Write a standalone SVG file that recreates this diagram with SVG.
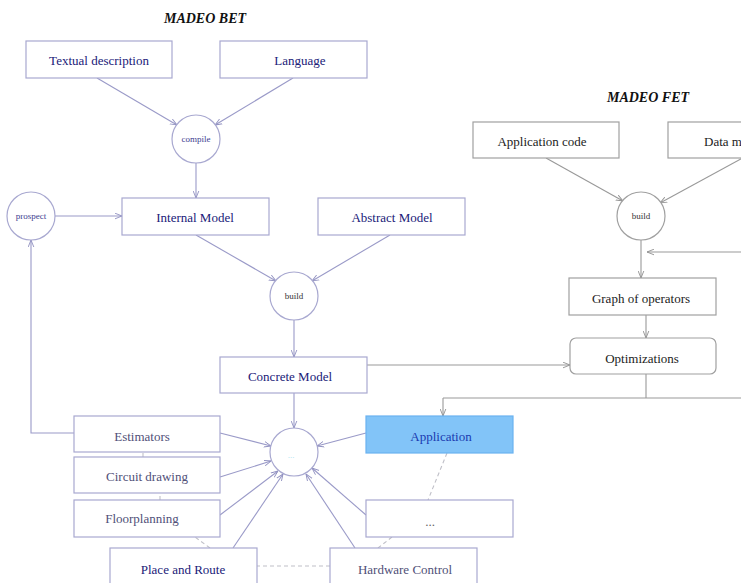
<svg xmlns="http://www.w3.org/2000/svg" width="741" height="583" viewBox="0 0 741 583">
<defs>
<marker id="ah" viewBox="0 0 10 10" refX="10" refY="5" markerWidth="7" markerHeight="7" orient="auto-start-reverse" markerUnits="userSpaceOnUse">
<path d="M0,1 L10,5 L0,9" fill="none" stroke="#9090c0" stroke-width="1.3"/>
</marker>
<marker id="ahg" viewBox="0 0 10 10" refX="10" refY="5" markerWidth="7" markerHeight="7" orient="auto-start-reverse" markerUnits="userSpaceOnUse">
<path d="M0,1 L10,5 L0,9" fill="none" stroke="#909090" stroke-width="1.3"/>
</marker>
<style>
.box{fill:#fff;stroke:#a8a8d0;stroke-width:1.2}
.gbox{fill:#fff;stroke:#a0a0a0;stroke-width:1.2}
.circ{fill:#fff;stroke:#a8a8d0;stroke-width:1.2}
.gcirc{fill:#fff;stroke:#a0a0a0;stroke-width:1.2}
.t{font-family:"Liberation Serif",serif;font-size:13px;fill:#202078;text-anchor:middle;dominant-baseline:central}
.tg{font-family:"Liberation Serif",serif;font-size:13px;fill:#505078;text-anchor:middle;dominant-baseline:central}
.tk{font-family:"Liberation Serif",serif;font-size:13px;fill:#222;text-anchor:middle;dominant-baseline:central}
.ts{font-family:"Liberation Serif",serif;font-size:9px;fill:#404090;text-anchor:middle;dominant-baseline:central}
.tsk{font-family:"Liberation Serif",serif;font-size:9px;fill:#333;text-anchor:middle;dominant-baseline:central}
.title{font-family:"Liberation Serif",serif;font-size:14px;font-weight:bold;font-style:italic;fill:#111;text-anchor:middle}
.c{fill:none;stroke:#9a9ac8;stroke-width:1.1;marker-end:url(#ah)}
.cn{fill:none;stroke:#9a9ac8;stroke-width:1.1}
.cg{fill:none;stroke:#999;stroke-width:1.1;marker-end:url(#ahg)}
.cgn{fill:none;stroke:#999;stroke-width:1.1}
.d{fill:none;stroke:#c0c0c8;stroke-width:1.1;stroke-dasharray:4,3}
</style>
</defs>

<text class="title" x="205" y="23">MADEO BET</text>
<text class="title" x="648" y="102">MADEO FET</text>

<g id="connectors">
<line class="c" x1="97" y1="78" x2="177" y2="125"/>
<line class="c" x1="293" y1="78" x2="215" y2="125"/>
<line class="c" x1="196" y1="163" x2="196" y2="198"/>
<line class="c" x1="55" y1="216" x2="122" y2="216"/>
<line class="c" x1="196" y1="235" x2="276" y2="281"/>
<line class="c" x1="390" y1="235" x2="312" y2="281"/>
<line class="c" x1="294" y1="320" x2="294" y2="357"/>
<line class="c" x1="294" y1="393" x2="294" y2="428"/>
<polyline class="c" points="74,433 31,433 31,240"/>
<line class="c" x1="220" y1="433" x2="271" y2="446"/>
<line class="c" x1="220" y1="477" x2="271" y2="461"/>
<line class="c" x1="220" y1="515" x2="278" y2="471"/>
<line class="c" x1="233" y1="548" x2="283" y2="474"/>
<line class="c" x1="355" y1="548" x2="306" y2="474"/>
<line class="c" x1="366" y1="515" x2="312" y2="468"/>
<line class="c" x1="366" y1="433" x2="317" y2="446"/>
<line class="cg" x1="367" y1="365" x2="570" y2="365"/>
<line class="cg" x1="546" y1="158" x2="623" y2="201"/>
<line class="cg" x1="748" y1="155" x2="660" y2="203"/>
<line class="cg" x1="641" y1="240" x2="641" y2="278"/>
<line class="cg" x1="741" y1="252" x2="647" y2="252"/>
<line class="cg" x1="646" y1="315" x2="646" y2="338"/>
<line class="cgn" x1="646" y1="374" x2="646" y2="398"/>
<line class="cgn" x1="443" y1="398" x2="741" y2="398"/>
<line class="cg" x1="443" y1="398" x2="443" y2="416"/>
<line class="d" x1="447" y1="453" x2="428" y2="500"/>
<line class="d" x1="392" y1="537" x2="378" y2="548"/>
<line class="d" x1="330" y1="566" x2="257" y2="566"/>
<line class="d" x1="210" y1="548" x2="195" y2="537"/>
<line class="d" x1="160" y1="500" x2="160" y2="493"/>
<line class="d" x1="143" y1="457" x2="143" y2="452"/>
</g>

<g id="textual"><rect class="box" x="26" y="41" width="146" height="37"/><text class="t" x="99" y="60">Textual description</text></g>
<g id="language"><rect class="box" x="220" y="41" width="147" height="37"/><text class="t" x="300" y="60">Language</text></g>
<g id="compile"><circle class="circ" cx="196" cy="139" r="24"/><text class="ts" x="196" y="139">compile</text></g>
<g id="prospect"><circle class="circ" cx="31" cy="216" r="24"/><text class="ts" x="31" y="216">prospect</text></g>
<g id="internal"><rect class="box" x="122" y="198" width="147" height="37"/><text class="t" x="195" y="217">Internal Model</text></g>
<g id="abstract"><rect class="box" x="318" y="198" width="147" height="37"/><text class="t" x="392" y="217">Abstract Model</text></g>
<g id="buildbet"><circle class="circ" cx="294" cy="296" r="24"/><text class="tsk" x="294" y="296">build</text></g>
<g id="concrete"><rect class="box" x="220" y="357" width="147" height="36"/><text class="t" x="290" y="376">Concrete Model</text></g>
<g id="core"><circle class="circ" cx="294" cy="452" r="24"/><text class="ts" x="291" y="455" style="fill:#a8e0f0">...</text></g>
<g id="estimators"><rect class="box" x="74" y="416" width="146" height="36"/><text class="tg" x="142" y="436">Estimators</text></g>
<g id="circuit"><rect class="box" x="74" y="457" width="146" height="36"/><text class="tg" x="147" y="476">Circuit drawing</text></g>
<g id="floor"><rect class="box" x="74" y="500" width="146" height="37"/><text class="tg" x="142" y="518">Floorplanning</text></g>
<g id="place"><rect class="box" x="110" y="548" width="147" height="40"/><text class="t" x="183" y="569">Place and Route</text></g>
<g id="hardware"><rect class="box" x="330" y="548" width="147" height="40"/><text class="tg" x="405" y="569">Hardware Control</text></g>
<g id="application"><rect x="366" y="416" width="147" height="37" fill="#82c4f8" stroke="#6ab2f0" stroke-width="1.2"/><text class="t" x="441" y="436" style="fill:#1a3ab0">Application</text></g>
<g id="more"><rect class="box" x="366" y="500" width="147" height="37"/><text class="tk" x="430" y="521" style="fill:#666">...</text></g>

<g id="appcode"><rect class="gbox" x="473" y="122" width="146" height="36"/><text class="tk" x="542" y="141">Application code</text></g>
<g id="datamodel"><rect class="gbox" x="668" y="122" width="147" height="36"/><text class="tk" x="704" y="141" style="text-anchor:start">Data m</text></g>
<g id="buildfet"><circle class="gcirc" cx="641" cy="216" r="24"/><text class="tsk" x="641" y="216">build</text></g>
<g id="graph"><rect class="gbox" x="569" y="278" width="147" height="37"/><text class="tk" x="641" y="298">Graph of operators</text></g>
<g id="optim"><rect class="gbox" x="570" y="338" width="146" height="36" rx="6"/><text class="tk" x="642" y="358">Optimizations</text></g>
</svg>
